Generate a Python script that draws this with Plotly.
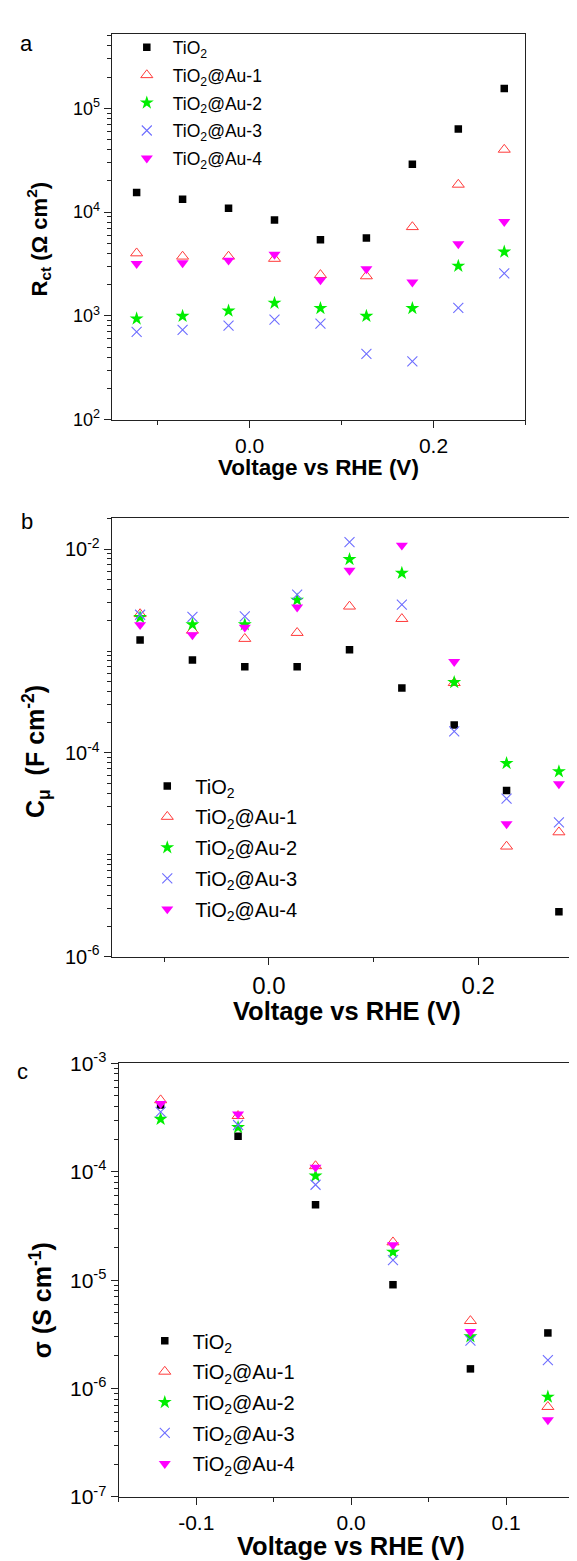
import plotly.graph_objects as go

# ---------------- data ----------------
voltage_ab = [-0.123, -0.073, -0.023, 0.027, 0.077, 0.127, 0.177, 0.227, 0.277]
voltage_c = [-0.123, -0.073, -0.023, 0.027, 0.077, 0.127]

series_names = ["TiO<sub>2</sub>", "TiO<sub>2</sub>@Au-1", "TiO<sub>2</sub>@Au-2",
                "TiO<sub>2</sub>@Au-3", "TiO<sub>2</sub>@Au-4"]

# panel a : R_ct (Ohm cm2)
rct_tio2 = [15400, 13300, 10900, 8370, 5410, 5610, 28800, 63200, 154800]
rct_au1 = [4010, 3730, 3730, 3550, 2480, 2410, 7180, 18400, 40000]
rct_au2 = [937, 993, 1115, 1328, 1182, 993, 1182, 3020, 4130]
rct_au3 = [700, 731, 803, 916, 840, 430, 364, 1191, 2560]
rct_au4 = [3180, 3230, 3420, 3900, 2210, 2830, 2110, 4920, 8070]

# panel b : C_mu (F cm-2)
cmu_tio2 = [1.28e-3, 8.17e-4, 7.0e-4, 7.0e-4, 1.03e-3, 4.35e-4, 1.88e-4, 4.28e-5, 2.76e-6]
cmu_au1 = [2.31e-3, 1.59e-3, 1.32e-3, 1.51e-3, 2.74e-3, 2.07e-3, 4.87e-4, 1.21e-5, 1.67e-5]
cmu_au2 = [2.14e-3, 1.82e-3, 1.82e-3, 3.17e-3, 7.95e-3, 5.82e-3, 4.93e-4, 7.92e-5, 6.58e-5]
cmu_au3 = [2.27e-3, 2.16e-3, 2.19e-3, 3.57e-3, 1.17e-2, 2.86e-3, 1.63e-4, 3.56e-5, 2.08e-5]
cmu_au4 = [1.81e-3, 1.44e-3, 1.71e-3, 2.69e-3, 6.18e-3, 1.09e-2, 7.87e-4, 2.01e-5, 4.97e-5]

# panel c : sigma (S cm-1)
sig_tio2 = [4.13e-4, 2.13e-4, 4.97e-5, 9.08e-6, 1.52e-6, 3.26e-6]
sig_au1 = [4.58e-4, 3.28e-4, 1.13e-4, 2.24e-5, 4.21e-6, 6.79e-7]
sig_au2 = [3.06e-4, 2.57e-4, 9.16e-5, 1.82e-5, 3.02e-6, 8.38e-7]
sig_au3 = [3.56e-4, 2.70e-4, 7.59e-5, 1.53e-5, 2.77e-6, 1.83e-6]
sig_au4 = [4.25e-4, 3.40e-4, 1.10e-4, 2.12e-5, 3.35e-6, 5.14e-7]

# tick labels
xticks_ab = [0.0, 0.2]
xticklabels_ab = ["0.0", "0.2"]
xminor_ab = [-0.1, 0.1, 0.3]
xticks_c = [-0.1, 0.0, 0.1]
xticklabels_c = ["-0.1", "0.0", "0.1"]
xminor_c = [-0.15, -0.05, 0.05, 0.15]
yexp_a = [2, 3, 4, 5]
yexp_b = [-6, -4, -2]
yexp_c = [-7, -6, -5, -4, -3]

# ---------------- styles ----------------
W, H = 577, 1561
FONT = "Liberation Sans, Arial, sans-serif"
INK = "#222222"
styles = [
    dict(symbol="square", size=7.5, color="#000000", line=dict(width=0)),
    dict(symbol="triangle-up-open", size=10.5, color="#FF3A3A", line=dict(width=1, color="#FF3A3A")),
    dict(symbol="star", size=10.5, color="#00EE00", line=dict(width=0)),
    dict(symbol="x-thin", size=10, color="#6E6EFF", line=dict(width=1.1, color="#6E6EFF")),
    dict(symbol="triangle-down", size=10.5, color="#FF00FF", line=dict(width=0)),
]


def px_x(p):
    return p / W


def px_y(p):
    return 1 - p / H


fig = go.Figure()

panels = [
    ("x", "y", "legend", voltage_ab, [rct_tio2, rct_au1, rct_au2, rct_au3, rct_au4]),
    ("x2", "y2", "legend2", voltage_ab, [cmu_tio2, cmu_au1, cmu_au2, cmu_au3, cmu_au4]),
    ("x3", "y3", "legend3", voltage_c, [sig_tio2, sig_au1, sig_au2, sig_au3, sig_au4]),
]
for xa, ya, lg, xs, ys_list in panels:
    for i, (name, ys, st) in enumerate(zip(series_names, ys_list, styles)):
        fig.add_trace(go.Scatter(
            x=xs, y=ys, mode="markers", name=name, xaxis=xa, yaxis=ya, legend=lg,
            legendgroup="%s_%d" % (lg, i),
            marker=dict(symbol=st["symbol"], size=st["size"], color=st["color"], line=st["line"]),
        ))


def minor_vals(lo, hi, extra_decades=()):
    vals = [10.0 ** d for d in extra_decades]
    for d in range(lo, hi):
        for m in range(2, 10):
            vals.append(m * 10.0 ** d)
    return vals


def sup_label(e):
    return "10<sup>%d</sup>" % e


axis_common = dict(showline=True, linecolor=INK, linewidth=1.4, mirror=True,
                   ticks="outside", tickcolor=INK, tickwidth=1.2,
                   showgrid=False, zeroline=False)


def minor_axis(vals):
    return dict(tickmode="array", tickvals=vals, ticklen=4, ticks="outside",
                tickcolor=INK, tickwidth=1, showgrid=False)


fig.update_layout(
    # panel a
    xaxis=dict(domain=[px_x(104), px_x(518.3)], anchor="y", range=[-0.15, 0.30],
               tickmode="array", tickvals=xticks_ab, ticktext=xticklabels_ab, ticklen=7,
               minor=minor_axis(xminor_ab),
               tickfont=dict(family=FONT, size=21, color="#000"), **axis_common),
    yaxis=dict(domain=[px_y(404), px_y(12.3)], anchor="x", type="log", range=[2, 5.715],
               tickmode="array", tickvals=[10.0 ** e for e in yexp_a],
               ticktext=[sup_label(e) for e in yexp_a], ticklen=7,
               minor=minor_axis(minor_vals(2, 6)),
               tickfont=dict(family=FONT, size=18, color="#000"), **axis_common),
    # panel b
    xaxis2=dict(domain=[px_x(104), px_x(576)], anchor="y2", range=[-0.15, 0.30],
                tickmode="array", tickvals=xticks_ab, ticktext=xticklabels_ab, ticklen=7,
                minor=minor_axis(xminor_ab),
                tickfont=dict(family=FONT, size=24, color="#000"), **axis_common),
    yaxis2=dict(domain=[px_y(950), px_y(504)], anchor="x2", type="log", range=[-6, -1.694],
                tickmode="array", tickvals=[10.0 ** e for e in yexp_b],
                ticktext=[sup_label(e) for e in yexp_b], ticklen=7,
                minor=minor_axis(minor_vals(-6, -1, extra_decades=(-5, -3))),
                tickfont=dict(family=FONT, size=20, color="#000"), **axis_common),
    # panel c
    xaxis3=dict(domain=[px_x(111), px_x(576.5)], anchor="y3", range=[-0.15, 0.15],
                tickmode="array", tickvals=xticks_c, ticktext=xticklabels_c, ticklen=7,
                minor=minor_axis(xminor_c),
                tickfont=dict(family=FONT, size=21, color="#000"), **axis_common),
    yaxis3=dict(domain=[px_y(1499), px_y(1058.3)], anchor="x3", type="log", range=[-7, -3],
                tickmode="array", tickvals=[10.0 ** e for e in yexp_c],
                ticktext=[sup_label(e) for e in yexp_c], ticklen=7,
                minor=minor_axis(minor_vals(-7, -3)),
                tickfont=dict(family=FONT, size=21, color="#000"), **axis_common),
)

legend_common = dict(bgcolor="rgba(0,0,0,0)", borderwidth=0, xanchor="left", yanchor="top")
fig.update_layout(
    legend=dict(x=px_x(113), y=px_y(7.5), itemwidth=42, tracegroupgap=2,
                font=dict(family=FONT, size=17.5, color="#000"), **legend_common),
    legend2=dict(x=px_x(131.5), y=px_y(756.5), itemwidth=46, tracegroupgap=1.8,
                 font=dict(family=FONT, size=20, color="#000"), **legend_common),
    legend3=dict(x=px_x(129), y=px_y(1320.5), itemwidth=46, tracegroupgap=1.7,
                 font=dict(family=FONT, size=20, color="#000"), **legend_common),
)

annotations = [
    # panel letters
    dict(text="a", x=px_x(19), y=px_y(22), size=22),
    dict(text="b", x=px_x(19), y=px_y(508), size=22),
    dict(text="c", x=px_x(15), y=px_y(1067), size=22),
    # x titles
    dict(text="<b>Voltage vs RHE (V)</b>", x=px_x(311), y=px_y(453), size=22.5),
    dict(text="<b>Voltage vs RHE (V)</b>", x=px_x(340), y=px_y(1005), size=25.5),
    dict(text="<b>Voltage vs RHE (V)</b>", x=px_x(344), y=px_y(1549), size=25.5),
    # y titles
    dict(text="<b>R<sub>ct</sub> (\u03a9 cm<sup>2</sup>)</b>", x=px_x(31), y=px_y(221), size=22, angle=-90),
    dict(text="<b>C<sub>\u03bc</sub>  (F cm<sup>-2</sup>)</b>", x=px_x(28), y=px_y(741), size=25, angle=-90),
    dict(text="<b>\u03c3 (S cm<sup>-1</sup>)</b>", x=px_x(33), y=px_y(1299), size=25, angle=-90),
]
for a in annotations:
    fig.add_annotation(text=a["text"], x=a["x"], y=a["y"], xref="paper", yref="paper",
                       xanchor="center", yanchor="middle", showarrow=False,
                       textangle=a.get("angle", 0),
                       font=dict(family=FONT, size=a["size"], color="#000"))

fig.update_layout(width=W, height=H, margin=dict(l=0, r=0, t=0, b=0),
                  paper_bgcolor="white", plot_bgcolor="white")

fig.write_html("out.html")
